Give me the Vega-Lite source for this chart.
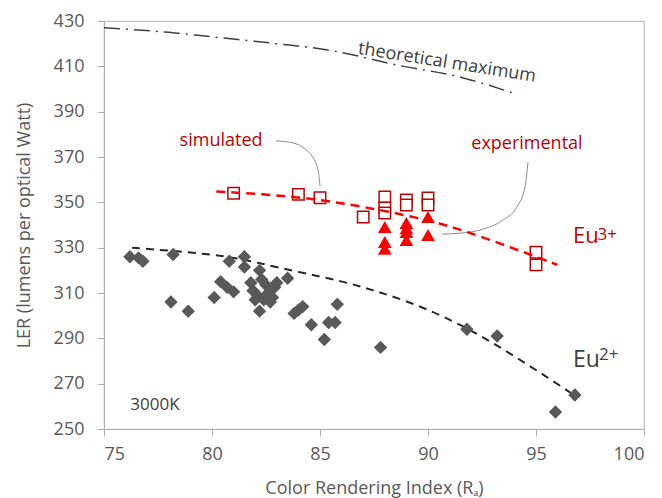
{
  "$schema": "https://vega.github.io/schema/vega-lite/v6.json",
  "width": 540,
  "height": 408,
  "autosize": "none",
  "padding": {"left": 104, "top": 21, "right": 18, "bottom": 69},
  "background": "white",
  "config": {
    "font": "Open Sans",
    "view": {"stroke": "#bfbfbf", "strokeWidth": 1.2},
    "axis": {
      "grid": false,
      "domainColor": "#b0b0b0",
      "tickColor": "#b0b0b0",
      "tickSize": 7,
      "labelFont": "Open Sans",
      "labelFontSize": 18,
      "labelColor": "#595959",
      "titleFont": "Open Sans",
      "titleFontSize": 18,
      "titleFontWeight": "normal",
      "titleColor": "#595959"
    }
  },
  "datasets": {
    "eu2": [
      {"x": 76.2, "y": 326}, {"x": 76.6, "y": 325.5}, {"x": 76.8, "y": 324},
      {"x": 78.2, "y": 327}, {"x": 78.1, "y": 306}, {"x": 78.9, "y": 302},
      {"x": 80.1, "y": 308}, {"x": 80.4, "y": 315}, {"x": 80.7, "y": 312.5},
      {"x": 81.0, "y": 310.5}, {"x": 80.8, "y": 324}, {"x": 81.5, "y": 326},
      {"x": 81.5, "y": 321.5}, {"x": 81.8, "y": 314.5}, {"x": 81.9, "y": 311},
      {"x": 82.0, "y": 307}, {"x": 82.1, "y": 309}, {"x": 82.2, "y": 320},
      {"x": 82.2, "y": 302}, {"x": 82.3, "y": 316}, {"x": 82.4, "y": 307},
      {"x": 82.5, "y": 313.5}, {"x": 82.6, "y": 310}, {"x": 82.7, "y": 306},
      {"x": 82.8, "y": 308}, {"x": 82.9, "y": 312.5}, {"x": 83.0, "y": 314.5},
      {"x": 83.5, "y": 316.5}, {"x": 83.8, "y": 301}, {"x": 84.0, "y": 302.5},
      {"x": 84.2, "y": 304}, {"x": 84.6, "y": 296}, {"x": 85.2, "y": 289.5},
      {"x": 85.4, "y": 297}, {"x": 85.7, "y": 297}, {"x": 85.8, "y": 305},
      {"x": 87.8, "y": 286}, {"x": 91.8, "y": 294}, {"x": 93.2, "y": 291},
      {"x": 95.9, "y": 257.5}, {"x": 96.8, "y": 265}
    ],
    "simulated": [
      {"x": 81.0, "y": 354}, {"x": 84.0, "y": 353.5}, {"x": 85.0, "y": 352},
      {"x": 87.0, "y": 343.5}, {"x": 88.0, "y": 352.4}, {"x": 88.0, "y": 347.5},
      {"x": 88.0, "y": 345.3}, {"x": 89.0, "y": 351}, {"x": 89.0, "y": 348.8},
      {"x": 90.0, "y": 351.9}, {"x": 90.0, "y": 348.8}, {"x": 95.0, "y": 328},
      {"x": 95.0, "y": 322.4}
    ],
    "experimental": [
      {"x": 88.0, "y": 339.1}, {"x": 88.0, "y": 332.5}, {"x": 88.0, "y": 329.5},
      {"x": 89.0, "y": 340.9}, {"x": 89.0, "y": 338.5}, {"x": 89.0, "y": 336.9},
      {"x": 89.0, "y": 333.4}, {"x": 90.0, "y": 343.5}, {"x": 90.0, "y": 335.6}
    ],
    "theory": [
      {"x": 75.0, "y": 427}, {"x": 78.0, "y": 425}, {"x": 80.0, "y": 423},
      {"x": 83.0, "y": 420}, {"x": 85.5, "y": 417}, {"x": 88.6, "y": 410.5},
      {"x": 91.6, "y": 405}, {"x": 94.0, "y": 398}
    ],
    "redfit": [
      {"x": 80.2, "y": 354.8}, {"x": 83.0, "y": 353.2}, {"x": 85.0, "y": 351.2},
      {"x": 87.0, "y": 348}, {"x": 88.0, "y": 346.2}, {"x": 90.0, "y": 342.2},
      {"x": 91.6, "y": 337.8}, {"x": 93.9, "y": 329.9}, {"x": 96.0, "y": 322.4}
    ],
    "blackfit": [
      {"x": 76.3, "y": 330}, {"x": 78.3, "y": 328.5}, {"x": 80.7, "y": 326.3},
      {"x": 82.1, "y": 323.4}, {"x": 84.1, "y": 319}, {"x": 86.0, "y": 315.3},
      {"x": 87.45, "y": 311.3}, {"x": 89.0, "y": 306.5}, {"x": 90.6, "y": 300.3},
      {"x": 92.4, "y": 291.5}, {"x": 93.9, "y": 282.7}, {"x": 95.5, "y": 273},
      {"x": 96.6, "y": 266}
    ],
    "callSim": [
      {"x": 82.96, "y": 377.1}, {"x": 83.75, "y": 376.2}, {"x": 84.31, "y": 373.5},
      {"x": 84.68, "y": 369.6}, {"x": 84.91, "y": 364.3}, {"x": 85.0, "y": 357.2}
    ],
    "callExp": [
      {"x": 90.65, "y": 336.0}, {"x": 91.62, "y": 336.5}, {"x": 92.41, "y": 337.8},
      {"x": 93.47, "y": 342.2}, {"x": 94.12, "y": 348}, {"x": 94.49, "y": 356.8},
      {"x": 94.63, "y": 367.8}
    ],
    "labelsRed": [
      {"x": 80.42, "y": 377.1, "t": "simulated"},
      {"x": 94.58, "y": 375.7, "t": "experimental"}
    ]
  },
  "encoding": {
    "x": {
      "field": "x", "type": "quantitative",
      "scale": {"domain": [75, 100], "nice": false, "zero": false},
      "axis": {"values": [75, 80, 85, 90, 95, 100], "labelPadding": 9, "titlePadding": 16, "title": "Color Rendering Index (Rₐ)"}
    },
    "y": {
      "field": "y", "type": "quantitative",
      "scale": {"domain": [250, 430], "nice": false, "zero": false},
      "axis": {"values": [250, 270, 290, 310, 330, 350, 370, 390, 410, 430], "labelPadding": 13, "titlePadding": 20, "title": "LER (lumens per optical Watt)"}
    }
  },
  "layer": [
    {
      "data": {"name": "theory"},
      "mark": {"type": "line", "interpolate": "monotone", "color": "#404040", "strokeWidth": 1.5, "strokeDash": [16, 6, 2, 6]}
    },
    {
      "data": {"name": "blackfit"},
      "mark": {"type": "line", "interpolate": "basis", "color": "#262626", "strokeWidth": 2, "strokeDash": [8, 6]}
    },
    {
      "data": {"name": "callSim"},
      "mark": {"type": "line", "interpolate": "monotone", "color": "#8c8c8c", "strokeWidth": 1}
    },
    {
      "data": {"name": "callExp"},
      "mark": {"type": "line", "interpolate": "monotone", "color": "#8c8c8c", "strokeWidth": 1}
    },
    {
      "data": {"name": "eu2"},
      "mark": {"type": "point", "shape": "diamond", "filled": true, "color": "#595959", "opacity": 1, "size": 180}
    },
    {
      "data": {"name": "simulated"},
      "mark": {"type": "point", "shape": "square", "filled": false, "fill": "white", "fillOpacity": 1, "stroke": "#c00000", "strokeWidth": 1.5, "opacity": 1, "size": 130}
    },
    {
      "data": {"name": "experimental"},
      "mark": {"type": "point", "shape": "triangle-up", "filled": true, "color": "#ff0000", "opacity": 1, "size": 190}
    },
    {
      "data": {"name": "redfit"},
      "mark": {"type": "line", "interpolate": "basis", "color": "#ff0000", "strokeWidth": 2.5, "strokeDash": [9, 6]}
    },
    {
      "data": {"name": "labelsRed"},
      "mark": {"type": "text", "font": "Open Sans", "fontSize": 18, "color": "#c00000", "align": "center", "baseline": "middle"},
      "encoding": {"text": {"field": "t"}}
    },
    {
      "data": {"values": [{"x": 90.88, "y": 411.5, "t": "theoretical maximum"}]},
      "mark": {"type": "text", "font": "Open Sans", "fontSize": 18, "color": "#404040", "align": "center", "baseline": "middle", "angle": 9},
      "encoding": {"text": {"field": "t"}}
    },
    {
      "data": {"values": [{"x": 77.36, "y": 260.6, "t": "3000K"}]},
      "mark": {"type": "text", "font": "Open Sans", "fontSize": 17, "color": "#404040", "align": "center", "baseline": "middle"},
      "encoding": {"text": {"field": "t"}}
    },
    {
      "data": {"values": [{"x": 96.71, "y": 332.1, "t": "Eu"}]},
      "mark": {"type": "text", "font": "Open Sans", "fontSize": 22, "color": "#c00000", "align": "left", "baseline": "alphabetic"},
      "encoding": {"text": {"field": "t"}}
    },
    {
      "data": {"values": [{"x": 97.85, "y": 333.4, "t": "3+"}]},
      "mark": {"type": "text", "font": "Open Sans", "fontSize": 17, "color": "#c00000", "align": "left", "baseline": "alphabetic"},
      "encoding": {"text": {"field": "t"}}
    },
    {
      "data": {"values": [{"x": 96.71, "y": 277.4, "t": "Eu"}]},
      "mark": {"type": "text", "font": "Open Sans", "fontSize": 23, "color": "#404040", "align": "left", "baseline": "alphabetic"},
      "encoding": {"text": {"field": "t"}}
    },
    {
      "data": {"values": [{"x": 97.92, "y": 280.4, "t": "2+"}]},
      "mark": {"type": "text", "font": "Open Sans", "fontSize": 17, "color": "#404040", "align": "left", "baseline": "alphabetic"},
      "encoding": {"text": {"field": "t"}}
    }
  ]
}
